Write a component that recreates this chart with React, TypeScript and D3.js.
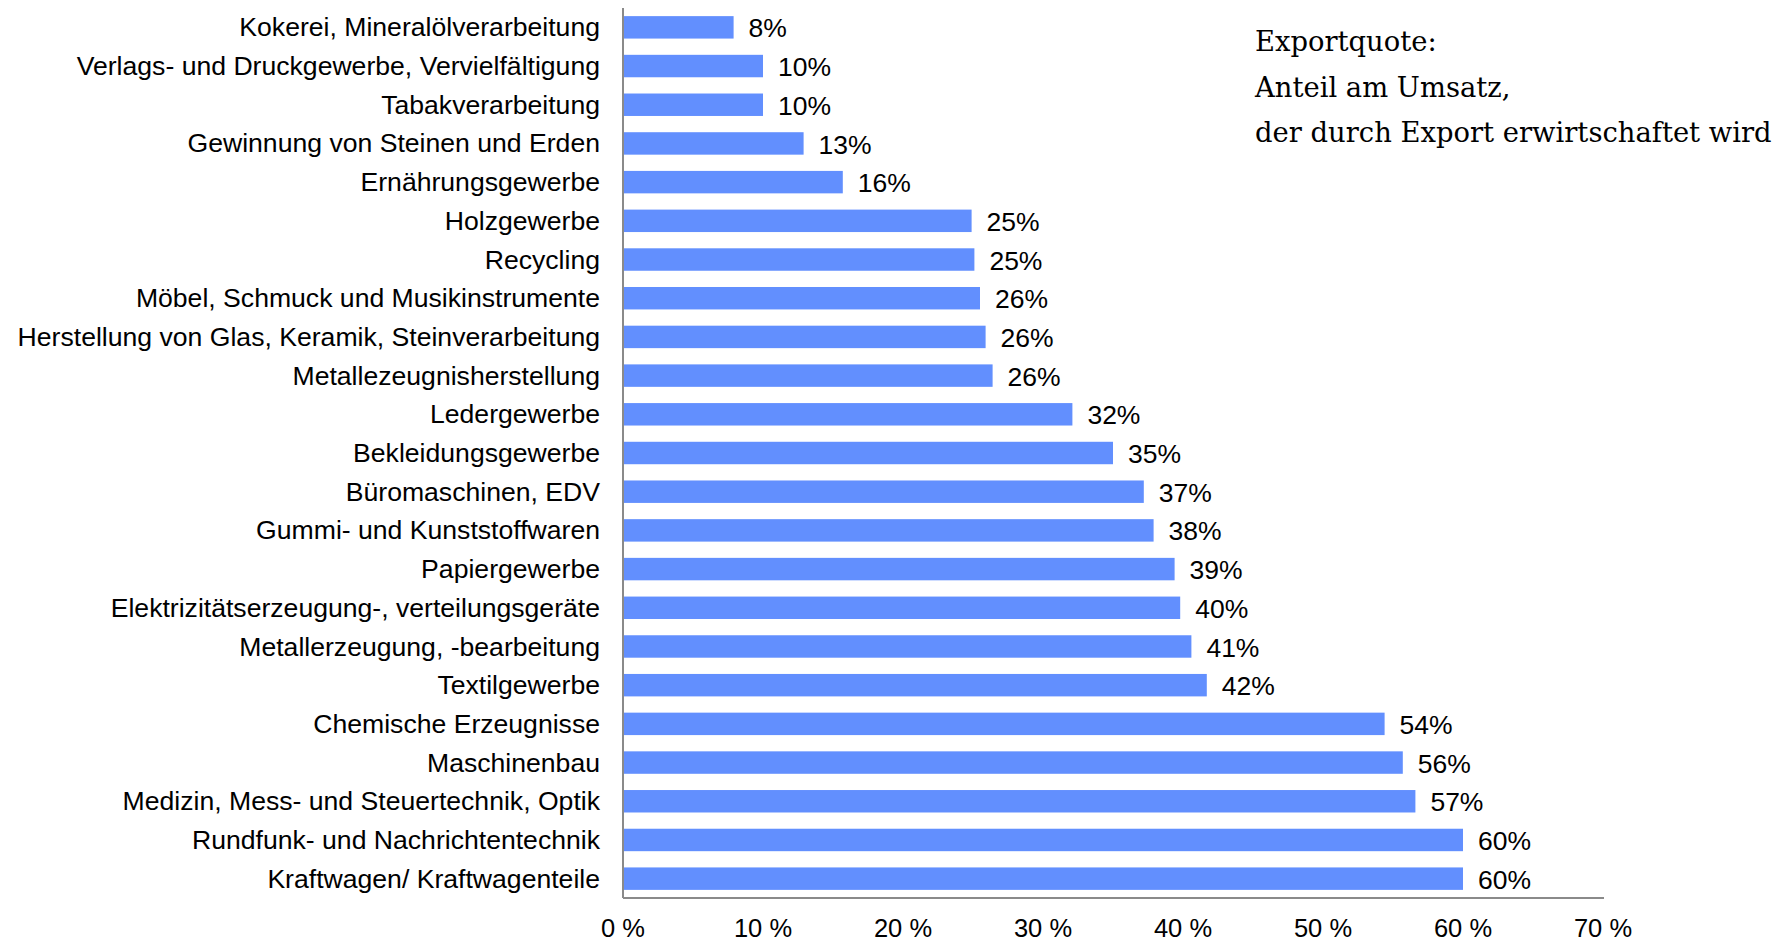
import React from 'react';
import * as d3 from 'd3';

// export share of turnover per branch (fraction)
const categories = [
  'Kokerei, Mineralölverarbeitung',
  'Verlags- und Druckgewerbe, Vervielfältigung',
  'Tabakverarbeitung',
  'Gewinnung von Steinen und Erden',
  'Ernährungsgewerbe',
  'Holzgewerbe',
  'Recycling',
  'Möbel, Schmuck und Musikinstrumente',
  'Herstellung von Glas, Keramik, Steinverarbeitung',
  'Metallezeugnisherstellung',
  'Ledergewerbe',
  'Bekleidungsgewerbe',
  'Büromaschinen, EDV',
  'Gummi- und Kunststoffwaren',
  'Papiergewerbe',
  'Elektrizitätserzeugung-, verteilungsgeräte',
  'Metallerzeugung, -bearbeitung',
  'Textilgewerbe',
  'Chemische Erzeugnisse',
  'Maschinenbau',
  'Medizin, Mess- und Steuertechnik, Optik',
  'Rundfunk- und Nachrichtentechnik',
  'Kraftwagen/ Kraftwagenteile',
];

const values = [
  0.079, 0.1, 0.1, 0.129, 0.157, 0.249, 0.251, 0.255, 0.259, 0.264, 0.321, 0.35,
  0.372, 0.379, 0.394, 0.398, 0.406, 0.417, 0.544, 0.557, 0.566, 0.6, 0.6,
];

const valueLabels = [
  '8%', '10%', '10%', '13%', '16%', '25%', '25%', '26%', '26%', '26%', '32%', '35%',
  '37%', '38%', '39%', '40%', '41%', '42%', '54%', '56%', '57%', '60%', '60%',
];

const xTicks = [0, 0.1, 0.2, 0.3, 0.4, 0.5, 0.6, 0.7];

const noteLines = [
  'Exportquote:',
  'Anteil am Umsatz,',
  'der durch Export erwirtschaftet wird',
];

const W = 1789;
const H = 942;
const left = 623;
const right = 1603;
const top = 8;
const bottom = 898;

const sans = '"Liberation Sans", Arial, sans-serif';
const serif = '"DejaVu Serif", Georgia, serif';

export default function App() {
  const x = d3.scaleLinear().domain([0, 0.7]).range([left, right]);
  const y = d3.scaleBand<string>().domain(categories).range([top, bottom])
    .paddingInner(0.42).paddingOuter(0.21);
  const fmt = (d: number) => `${Math.round(d * 100)} %`;

  return (
    <svg width={W} height={H} style={{ position: 'absolute', left: 0, top: 0, background: '#fff' }}>
      {categories.map((c, i) => {
        const yc = (y(c) ?? 0) + y.bandwidth() / 2;
        return (
          <g key={c}>
            <rect x={x(0)} y={y(c)} width={x(values[i]) - x(0)} height={y.bandwidth()} fill="#628FFE" />
            <text x={600} y={yc} dy="0.34em" textAnchor="end" fontFamily={sans} fontSize={26.6} fill="#000">{c}</text>
            <text x={x(values[i]) + 15} y={yc} dy="0.38em" fontFamily={sans} fontSize={26.5} fill="#000">{valueLabels[i]}</text>
          </g>
        );
      })}

      <line x1={left} x2={left} y1={top} y2={bottom} stroke="#8a8a8a" strokeWidth={2} />
      <line x1={left} x2={right + 1} y1={bottom} y2={bottom} stroke="#8a8a8a" strokeWidth={2} />

      {xTicks.map(t => (
        <text key={t} x={x(t)} y={937} textAnchor="middle" fontFamily={sans} fontSize={25.5} fill="#000">{fmt(t)}</text>
      ))}

      {noteLines.map((l, i) => (
        <text key={l} x={1255} y={51 + i * 45.5} fontFamily={serif} fontSize={27.4} fill="#000">{l}</text>
      ))}
    </svg>
  );
}
